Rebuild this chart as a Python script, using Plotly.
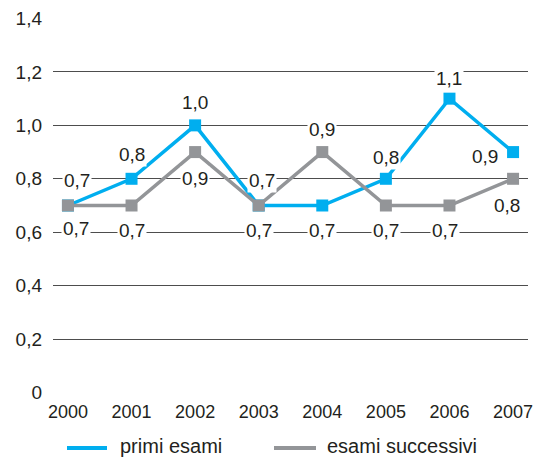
import plotly.graph_objects as go

years = ["2000", "2001", "2002", "2003", "2004", "2005", "2006", "2007"]
primi_esami = [0.7, 0.8, 1.0, 0.7, 0.7, 0.8, 1.1, 0.9]
esami_successivi = [0.7, 0.7, 0.9, 0.7, 0.9, 0.7, 0.7, 0.8]
series_names = ["primi esami", "esami successivi"]

y_ticks = [0, 0.2, 0.4, 0.6, 0.8, 1.0, 1.2, 1.4]
y_tick_text = ["0", "0,2", "0,4", "0,6", "0,8", "1,0", "1,2", "1,4"]

# label placement per point: (xshift, yshift)
primi_label_pos = [(9, 25), (0, 24), (0, 23), (3, 25), (0, -25), (0, 21), (0, 20), (-28, -4)]
succ_label_pos = [(8, -23), (0, -25), (0, -26), (0, -25), (0, 23), (0, -25), (-4, -25), (-6, -27)]

BLUE = "#00AEEF"
GREY = "#939598"
TEXT = "#231F20"
FONT = "Liberation Sans, Arial, sans-serif"

# plot area in pixels (for placing the legend below it)
W, H = 548, 460
ML, MR, MT, MB = 53, 20, 18, 67
PW, PH = W - ML - MR, H - MT - MB


def px_x(p):
    return (p - ML) / PW


def px_y(p):
    return (H - MB - p) / PH


x_idx = list(range(len(years)))

fig = go.Figure()
for vals, color in [(primi_esami, BLUE), (esami_successivi, GREY)]:
    fig.add_trace(go.Scatter(
        x=x_idx, y=vals, mode="lines+markers", showlegend=False,
        line=dict(color=color, width=3.5),
        marker=dict(symbol="square", size=12, color=color),
        cliponaxis=False,
    ))


def fmt(v):
    return f"{v:.1f}".replace(".", ",")


for vals, positions in [(primi_esami, primi_label_pos), (esami_successivi, succ_label_pos)]:
    for i, (v, (dx, dy)) in enumerate(zip(vals, positions)):
        fig.add_annotation(
            x=i, y=v, xref="x", yref="y", text=fmt(v), showarrow=False,
            xshift=dx, yshift=dy, bgcolor="white", borderpad=1,
            font=dict(family=FONT, size=19, color=TEXT),
        )

# legend: short line sample followed by the series name
legend_items = [(67, 107, 119, BLUE), (274, 316, 326, GREY)]
for name, (x0, x1, xt, color) in zip(series_names, legend_items):
    fig.add_shape(type="line", xref="paper", yref="paper",
                  x0=px_x(x0), x1=px_x(x1), y0=px_y(448), y1=px_y(448),
                  line=dict(color=color, width=4))
    fig.add_annotation(x=px_x(xt), y=px_y(446), xref="paper", yref="paper",
                       text=name, showarrow=False, xanchor="left", yanchor="middle",
                       borderpad=0, font=dict(family=FONT, size=20, color=TEXT))

fig.update_layout(
    width=W, height=H,
    margin=dict(l=ML, r=MR, t=MT, b=MB, autoexpand=False),
    paper_bgcolor="white", plot_bgcolor="white",
    font=dict(family=FONT, color=TEXT),
    showlegend=False,
    xaxis=dict(
        range=[-0.235, 7.235], tickmode="array", tickvals=x_idx, ticktext=years,
        showgrid=False, zeroline=False, showline=False, ticks="",
        ticklabelstandoff=6,
        tickfont=dict(family=FONT, size=18, color=TEXT),
    ),
    yaxis=dict(
        range=[-0.002, 1.402], tickmode="array", tickvals=y_ticks, ticktext=y_tick_text,
        showgrid=True, gridcolor="#4D4D4D", gridwidth=1, zeroline=False, showline=False,
        ticks="", ticklabelstandoff=10,
        tickfont=dict(family=FONT, size=19, color=TEXT),
    ),
)

fig.write_html("out.html")
